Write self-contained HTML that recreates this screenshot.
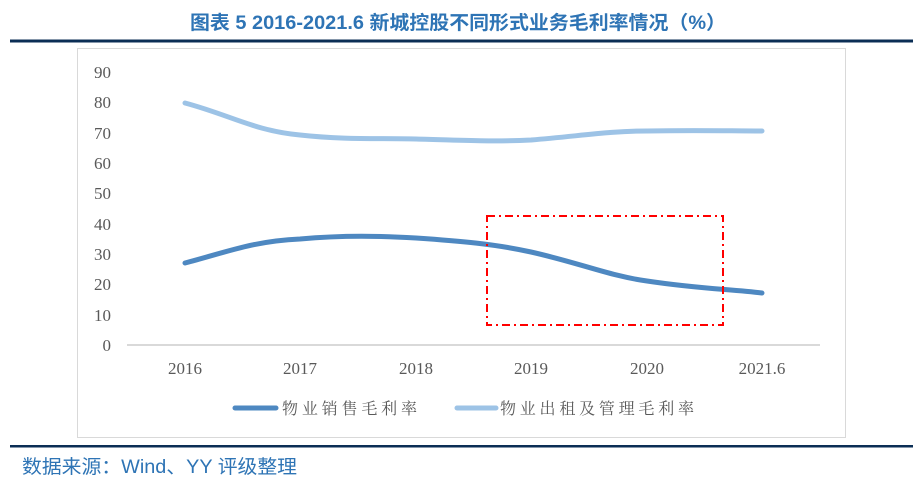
<!DOCTYPE html>
<html><head><meta charset="utf-8"><style>
body{margin:0;background:#fff;width:917px;height:484px;overflow:hidden;position:relative;font-family:"Liberation Sans","Noto Sans CJK SC",sans-serif}
</style></head><body>
<svg width="917" height="484" style="position:absolute;left:0;top:0">
<text x="458" y="29" text-anchor="middle" font-family="Liberation Sans, Noto Sans CJK SC, sans-serif" font-weight="bold" font-size="19" fill="#2e74b5" textLength="536" lengthAdjust="spacingAndGlyphs">图表  5 2016-2021.6 新城控股不同形式业务毛利率情况（%）</text>
<rect x="10" y="39.5" width="903" height="3" fill="#0b2e55"/>
<rect x="77.5" y="48.5" width="768" height="389" fill="#fff" stroke="#d9d9d9"/>
<g font-family="Liberation Serif, serif" font-size="17" fill="#595959" text-anchor="end">
<text x="111" y="78">90</text><text x="111" y="108">80</text><text x="111" y="139">70</text><text x="111" y="169">60</text><text x="111" y="199">50</text><text x="111" y="230">40</text><text x="111" y="260">30</text><text x="111" y="290">20</text><text x="111" y="321">10</text><text x="111" y="351">0</text>
</g>
<line x1="127" y1="345" x2="820" y2="345" stroke="#d9d9d9" stroke-width="2"/>
<g font-family="Liberation Serif, serif" font-size="17" fill="#595959" text-anchor="middle">
<text x="185" y="374">2016</text><text x="300" y="374">2017</text><text x="416" y="374">2018</text><text x="531" y="374">2019</text><text x="647" y="374">2020</text><text x="762" y="374">2021.6</text>
</g>
<path d="M185,103 C230,115 255,131 300,135 C345,140 380,138 416,139 C460,140 490,142 531,140 C580,136 610,131 647,131 C700,130 730,131 762,131" fill="none" stroke="#9dc3e6" stroke-width="5" stroke-linecap="round"/>
<path d="M185,263 C230,251 255,241 300,239 C345,235 380,236 416,238 C460,241 495,244 531,252 C580,263 610,276 647,281 C700,289 730,289 762,293" fill="none" stroke="#4e88c1" stroke-width="5" stroke-linecap="round"/>
<rect x="487" y="216" width="236" height="109" fill="none" stroke="#ff0000" stroke-width="2" stroke-dasharray="8,4,2,4"/>
<line x1="235" y1="408" x2="276" y2="408" stroke="#4e88c1" stroke-width="5" stroke-linecap="round"/>
<text x="282" y="414" font-family="Noto Serif CJK SC, serif" font-size="16" fill="#595959" textLength="135" lengthAdjust="spacing">物业销售毛利率</text>
<line x1="457" y1="408" x2="496" y2="408" stroke="#9dc3e6" stroke-width="5" stroke-linecap="round"/>
<text x="500" y="414" font-family="Noto Serif CJK SC, serif" font-size="16" fill="#595959" textLength="194" lengthAdjust="spacing">物业出租及管理毛利率</text>
<rect x="10" y="445" width="903" height="2.5" fill="#0b2e55"/>
<text x="22" y="473" font-family="Liberation Sans, Noto Sans CJK SC, sans-serif" font-size="19" fill="#2e74b5" textLength="275" lengthAdjust="spacingAndGlyphs">数据来源：Wind、YY 评级整理</text>
</svg>
</body></html>
